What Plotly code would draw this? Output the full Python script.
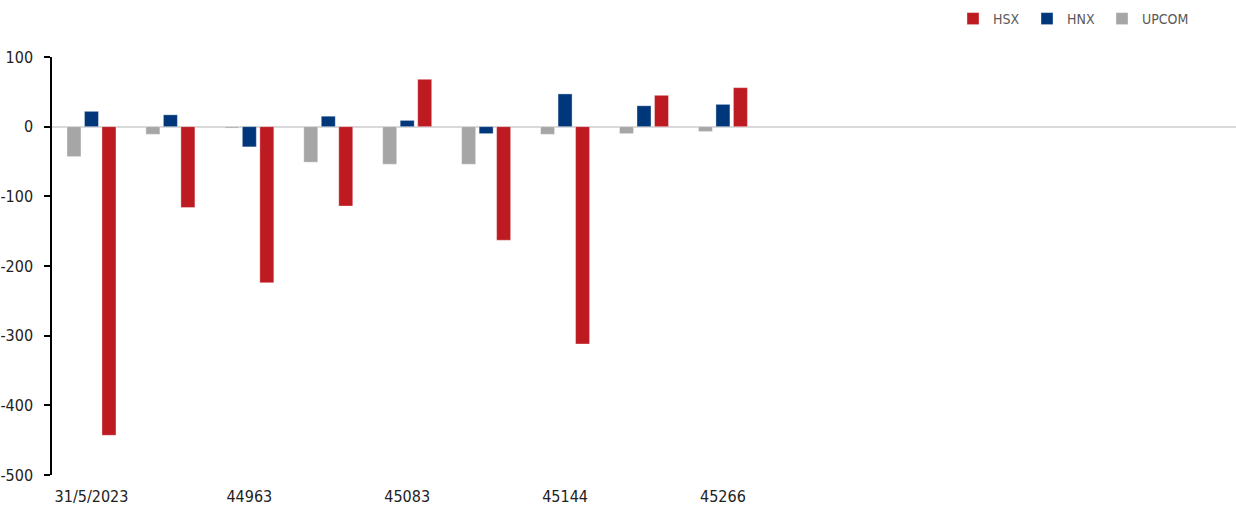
import plotly.graph_objects as go

# Category labels (Excel showed every other label; blanks are unlabeled periods)
categories = ["31/5/2023", "", "44963", "", "45083", "", "45144", "", "45266"]
n_slots = 15  # axis length in category slots (empty space on the right)

hsx = [-443, -116, -224, -114, 68, -163, -312, 45, 56]
hnx = [22, 17, -29, 15, 9, -10, 47, 30, 32]
upcom = [-43, -11, -2, -51, -54, -54, -11, -10, -7]

y_ticks = [100, 0, -100, -200, -300, -400, -500]
y_tick_labels = ["100", "0", "-100", "-200", "-300", "-400", "-500"]

FONT = "DejaVu Sans Condensed"
RED = "#BD1A21"
BLUE = "#00377A"
GRAY = "#A6A6A6"

W, H = 1236, 506

xs = list(range(len(categories)))

fig = go.Figure()
legend_pos = {"HSX": ("legend", 953), "HNX": ("legend2", 1027), "UPCOM": ("legend3", 1102)}
for name, vals, col in [("UPCOM", upcom, GRAY), ("HNX", hnx, BLUE), ("HSX", hsx, RED)]:
    fig.add_trace(go.Bar(
        x=xs, y=vals, name=name, legend=legend_pos[name][0],
        marker=dict(color=col, line=dict(color="rgba(255,255,255,0.6)", width=0.6)),
    ))

leg_common = dict(
    orientation="h", xref="container", yref="container",
    xanchor="left", yanchor="middle", y=1 - 19 / H,
    font=dict(family=FONT, size=14, color="#595959"),
    bgcolor="rgba(0,0,0,0)",
)
fig.update_layout(
    width=W, height=H,
    margin=dict(l=52, r=0, t=57, b=31, pad=0),
    paper_bgcolor="white", plot_bgcolor="white",
    barmode="group", bargap=0.335, bargroupgap=0.2,
    font=dict(family=FONT, color="#222222"),
    showlegend=True,
    legend=dict(x=legend_pos["HSX"][1] / W, **leg_common),
    legend2=dict(x=legend_pos["HNX"][1] / W, **leg_common),
    legend3=dict(x=legend_pos["UPCOM"][1] / W, **leg_common),
    xaxis=dict(
        range=[-0.5, n_slots - 0.5], automargin=False,
        tickmode="array", tickvals=xs, ticktext=categories,
        showline=False, showgrid=False, zeroline=False, ticks="",
        tickfont=dict(family=FONT, size=16, color="#222222"),
        ticklabelstandoff=10,
    ),
    yaxis=dict(
        range=[-500, 100], automargin=False,
        tickmode="array", tickvals=y_ticks, ticktext=y_tick_labels,
        showgrid=False,
        showline=True, linecolor="black", linewidth=1.5,
        ticks="outside", ticklen=6, tickcolor="black", tickwidth=1.5,
        zeroline=True, zerolinecolor="#D9D9D9", zerolinewidth=2,
        tickfont=dict(family=FONT, size=16, color="#222222"),
        ticklabelstandoff=8,
    ),
)

fig.write_html(
    "out.html",
    config={"displayModeBar": False},
    post_script="document.body.style.margin='0px';document.body.style.overflow='hidden';",
)
